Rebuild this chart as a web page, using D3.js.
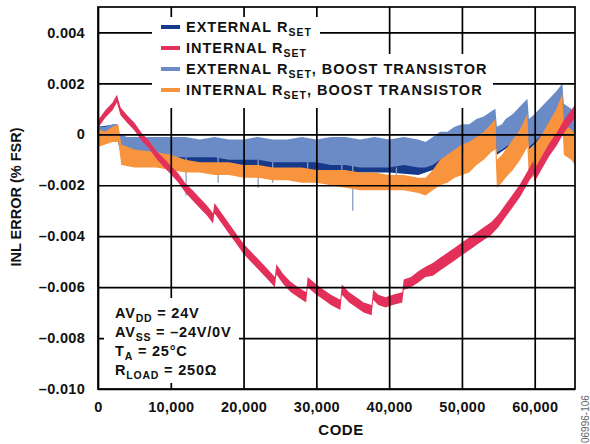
<!DOCTYPE html>
<html>
<head>
<meta charset="utf-8">
<script src="https://cdn.jsdelivr.net/npm/d3@7"></script>
<style>
  html, body { margin: 0; padding: 0; background: #fff; }
  svg text { font-family: "Liberation Sans", Arial, Helvetica, sans-serif; font-weight: bold; fill: #111; }
</style>
</head>
<body>
<svg id="chart" width="590" height="444"></svg>
<script>
// ---- data (INL error, % FSR) : [code, low, high] envelope of each trace ----
const xTicks = [0, 10000, 20000, 30000, 40000, 50000, 60000];
const yTicks = [-0.010, -0.008, -0.006, -0.004, -0.002, 0, 0.002, 0.004];

const seriesNames = ["EXTERNAL R", "INTERNAL R", "EXTERNAL R", "INTERNAL R"];
const seriesSuffix = ["", "", ", BOOST TRANSISTOR", ", BOOST TRANSISTOR"];

const externalRset = [
  [0,-0.0002,0.0003],[2600,-0.0001,0.0004],[3000,-0.0006,-0.0001],[5000,-0.0009,-0.0003],
  [10000,-0.0012,-0.0005],[15000,-0.0013,-0.0006],[20000,-0.0014,-0.0007],[25000,-0.0014,-0.0007],
  [30000,-0.0015,-0.0008],[35000,-0.0015,-0.0008],[40000,-0.0015,-0.0008],[44000,-0.0016,-0.0009],
  [46000,-0.0014,-0.0007],[48000,-0.0011,-0.0004],[50000,-0.0008,-0.0002],[52000,-0.0006,0.0000],
  [54000,-0.0003,0.0003],[54600,-0.0002,0.0004],[54800,-0.0008,-0.0002],[58000,-0.0002,0.0004],
  [59000,0.0001,0.0007],[59200,-0.0006,0.0000],[62000,0.0001,0.0008],[63800,0.0006,0.0013],
  [64000,-0.0001,0.0005],[65535,-0.0006,0.0002]
];

const externalBoost = [
  [0,-0.0002,0.0003],[1000,-0.0002,0.0003],[2000,-0.0001,0.0004],[2600,-0.0001,0.0004],
  [3000,-0.0006,0.0000],[4000,-0.0007,-0.0001],[5000,-0.0008,-0.0001],[6000,-0.0007,-0.0001],
  [8000,-0.0008,-0.0001],[10000,-0.0009,-0.0001],[12000,-0.0009,-0.0001],[14000,-0.0009,-0.0002],
  [16000,-0.0009,-0.0001],[18000,-0.0010,-0.0002],[20000,-0.0010,-0.0002],[22000,-0.0010,-0.0001],
  [24000,-0.0011,-0.0002],[26000,-0.0011,-0.0002],[28000,-0.0011,-0.0001],[30000,-0.0011,-0.0002],
  [32000,-0.0012,-0.0001],[34000,-0.0012,-0.0001],[36000,-0.0013,-0.0002],[38000,-0.0013,-0.0001],
  [40000,-0.0013,-0.0002],[42000,-0.0012,-0.0001],[44000,-0.0013,-0.0002],[45000,-0.0013,-0.0003],
  [46000,-0.0012,-0.0001],[47000,-0.0010,0.0001],[48000,-0.0009,0.0001],[49000,-0.0008,0.0003],
  [50000,-0.0007,0.0004],[51000,-0.0006,0.0004],[52000,-0.0005,0.0006],[53000,-0.0004,0.0007],
  [54000,-0.0002,0.0009],[54600,0.0000,0.0010],[54800,-0.0007,0.0003],[55500,-0.0006,0.0004],
  [56000,-0.0005,0.0006],[57000,-0.0003,0.0008],[58000,0.0000,0.0011],[59000,0.0003,0.0014],
  [59200,-0.0005,0.0006],[60000,-0.0003,0.0008],[61000,0.0000,0.0011],[62000,0.0003,0.0014],
  [63000,0.0006,0.0017],[63800,0.0009,0.0020],[64000,0.0001,0.0012],[65000,-0.0002,0.0010],
  [65535,-0.0006,0.0008]
];

// isolated downward glitches of the external-boost trace: [code, value]
const externalBoostGlitches = [
  [12100,-0.0024],[16500,-0.0019],[22000,-0.0021],[24000,-0.0019],[28800,-0.0018],
  [33500,-0.0019],[35000,-0.0030],[41000,-0.0021]
];

const internalBoost = [
  [0,-0.0005,0.0002],[1000,-0.0004,0.0001],[2000,-0.0003,0.0003],[2800,-0.0003,0.0004],
  [3200,-0.0012,-0.0004],[5000,-0.0013,-0.0006],[8000,-0.0013,-0.0007],[10000,-0.0014,-0.0008],
  [12000,-0.0015,-0.0010],[14000,-0.0015,-0.0011],[16000,-0.0016,-0.0011],[18000,-0.0016,-0.0011],
  [20000,-0.0017,-0.0012],[22000,-0.0017,-0.0012],[24000,-0.0018,-0.0013],[26000,-0.0018,-0.0013],
  [28000,-0.0019,-0.0013],[30000,-0.0019,-0.0014],[32000,-0.0020,-0.0014],[34000,-0.0021,-0.0014],
  [36000,-0.0022,-0.0015],[38000,-0.0022,-0.0015],[40000,-0.0022,-0.0016],[42000,-0.0022,-0.0016],
  [44000,-0.0023,-0.0017],[45000,-0.0024,-0.0017],[46000,-0.0022,-0.0014],[47000,-0.0020,-0.0010],
  [48000,-0.0019,-0.0008],[49000,-0.0017,-0.0006],[50000,-0.0016,-0.0004],[51000,-0.0015,-0.0003],
  [52000,-0.0012,-0.0001],[53000,-0.0010,0.0001],[54000,-0.0007,0.0004],[54600,-0.0006,0.0006],
  [54800,-0.0021,-0.0010],[55500,-0.0019,-0.0008],[56000,-0.0017,-0.0006],[57000,-0.0014,-0.0002],
  [58000,-0.0010,0.0002],[59000,-0.0005,0.0008],[59200,-0.0018,-0.0006],[60000,-0.0016,-0.0004],
  [61000,-0.0012,0.0000],[62000,-0.0007,0.0005],[63000,-0.0002,0.0010],[63800,0.0004,0.0016],
  [64000,-0.0008,0.0004],[65000,-0.0010,0.0002],[65535,-0.0012,0.0000]
];

const internalRset = [
  [0,0.00025,0.00055],[1000,0.00065,0.00095],[2000,0.00095,0.00125],[2600,0.00125,0.00155],
  [3100,0.00075,0.00105],[4000,0.00045,0.00075],[5000,0.00015,0.00045],[6000,-0.00025,0.00005],
  [7000,-0.00055,-0.00025],[8000,-0.00095,-0.00065],[9000,-0.00127,-0.00093],[10000,-0.00157,-0.00123],
  [11000,-0.00188,-0.00152],[12000,-0.00228,-0.00192],[13000,-0.0026,-0.0022],[14000,-0.0029,-0.0025],
  [15000,-0.0032,-0.0028],[15800,-0.0035,-0.0031],[16000,-0.0031,-0.0027],[17000,-0.0035,-0.0031],
  [18000,-0.0039,-0.0035],[19000,-0.0043,-0.0039],[20000,-0.0047,-0.0043],[21000,-0.0050,-0.0046],
  [22000,-0.0053,-0.0049],[23000,-0.0056,-0.0052],[24300,-0.0060,-0.0056],[24500,-0.0055,-0.0051],
  [25500,-0.0059,-0.0055],[26500,-0.0062,-0.0058],[27500,-0.0064,-0.0060],[28600,-0.0066,-0.0062],
  [28800,-0.0060,-0.0056],[30000,-0.0063,-0.0059],[31000,-0.0065,-0.0061],[32000,-0.0067,-0.0063],
  [33300,-0.0069,-0.0065],[33500,-0.0063,-0.0059],[34500,-0.0066,-0.0062],[35500,-0.0068,-0.0064],
  [36500,-0.0070,-0.0066],[37600,-0.0071,-0.0067],[37800,-0.0065,-0.0061],[38500,-0.0067,-0.0063],
  [39500,-0.0068,-0.0064],[40500,-0.0067,-0.0063],[41800,-0.0066,-0.0062],[42000,-0.0061,-0.0057],
  [43000,-0.0060,-0.0056],[44000,-0.00582,-0.00538],[45000,-0.0056,-0.0052],[46000,-0.00555,-0.00505],
  [47000,-0.00535,-0.00485],[48000,-0.00515,-0.00465],[49000,-0.00495,-0.00445],[50000,-0.00475,-0.00425],
  [51000,-0.00455,-0.00405],[52000,-0.00435,-0.00385],[53000,-0.00415,-0.00365],[54000,-0.00395,-0.00345],
  [55000,-0.00365,-0.00315],[56000,-0.00325,-0.00275],[57000,-0.00285,-0.00235],[58000,-0.00245,-0.00195],
  [59000,-0.00195,-0.00145],[59800,-0.00155,-0.00105],[60000,-0.00185,-0.00135],[61000,-0.00135,-0.00085],
  [62000,-0.00085,-0.00035],[63000,-0.00045,0.00005],[64000,0.00005,0.00055],[65000,0.00045,0.00095],
  [65535,0.00065,0.00115]
];

const colors = { extRset: "#17398a", intRset: "#e2305a", extBoost: "#6a8bc6", intBoost: "#f8943d" };

// ---- chart ----
const svg = d3.select("#chart");
const plotL = 98, plotR = 575, plotT = 7, plotB = 389;
const x = d3.scaleLinear().domain([0, 65535]).range([plotL, plotR]);
const y = d3.scaleLinear().domain([-0.010, 0.005]).range([plotB, plotT]);

const area = d3.area().x(d => x(d[0])).y0(d => y(d[1])).y1(d => y(d[2]));
const loAt = (arr, c) => { // envelope low edge of a series at code c (for glitch start)
  const i = d3.bisector(d => d[0]).right(arr, c) - 1;
  return arr[Math.max(0, i)][1];
};

const plot = svg.append("g");
plot.append("path").datum(externalRset).attr("d", area).attr("fill", colors.extRset);
plot.append("path").datum(externalBoost).attr("d", area).attr("fill", colors.extBoost);
plot.selectAll("line.glitch").data(externalBoostGlitches).join("line").attr("class", "glitch")
  .attr("x1", d => x(d[0])).attr("x2", d => x(d[0]))
  .attr("y1", d => y(loAt(externalBoost, d[0]))).attr("y2", d => y(d[1]))
  .attr("stroke", "#8a9cc0").attr("stroke-width", 1.3);
plot.append("path").datum(internalBoost).attr("d", area).attr("fill", colors.intBoost);
plot.append("path").datum(internalRset).attr("d", area).attr("fill", colors.intRset);

// grid + axes
const fmtY = d => d === 0 ? "0" : (d < 0 ? "\u2013" : "") + Math.abs(d).toFixed(3);
const xAxis = svg.append("g").attr("transform", `translate(0,${plotB})`)
  .call(d3.axisBottom(x).tickValues(xTicks).tickFormat(d3.format(",")).tickSize(-(plotB - plotT)).tickPadding(13));
const yAxis = svg.append("g").attr("transform", `translate(${plotL},0)`)
  .call(d3.axisLeft(y).tickValues(yTicks).tickFormat(fmtY).tickSize(-(plotR - plotL)).tickPadding(13));
[xAxis, yAxis].forEach(g => {
  g.select(".domain").remove();
  g.selectAll(".tick line").attr("stroke", "#000").attr("stroke-width", 1.7);
  g.selectAll(".tick text").attr("font-size", 14.5).attr("fill", "#111")
    .style("font-family", '"Liberation Sans", Arial, sans-serif').style("font-weight", "bold")
    .style("letter-spacing", "0.3px");
});
svg.append("rect").attr("x", plotL).attr("y", plotT).attr("width", plotR - plotL).attr("height", plotB - plotT)
  .attr("fill", "none").attr("stroke", "#000").attr("stroke-width", 1.7);

// legend
svg.append("rect").attr("x", 152).attr("y", 17).attr("width", 168).attr("height", 91).attr("fill", "#fff");
svg.append("rect").attr("x", 152).attr("y", 54).attr("width", 341).attr("height", 54).attr("fill", "#fff");
const legendColors = [colors.extRset, colors.intRset, colors.extBoost, colors.intBoost];
const lg = svg.append("g");
seriesNames.forEach((name, i) => {
  const cy = 27 + i * 21;
  lg.append("line").attr("x1", 161).attr("x2", 180).attr("y1", cy).attr("y2", cy)
    .attr("stroke", legendColors[i]).attr("stroke-width", 4);
  const t = lg.append("text").attr("x", 186).attr("y", cy + 5).attr("font-size", 14.5)
    .style("letter-spacing", "1px");
  t.append("tspan").text(name);
  t.append("tspan").attr("font-size", 10.5).attr("dy", 4).text("SET");
  if (seriesSuffix[i]) t.append("tspan").attr("dy", -4).text(seriesSuffix[i]);
});

// conditions box
svg.append("rect").attr("x", 104).attr("y", 298).attr("width", 135).attr("height", 85).attr("fill", "#fff");
const cond = [["AV", "DD", " = 24V"], ["AV", "SS", " = \u201324V/0V"], ["T", "A", " = 25\u00B0C"], ["R", "LOAD", " = 250\u03A9"]];
cond.forEach((c, i) => {
  const t = svg.append("text").attr("x", 115).attr("y", 318 + i * 19).attr("font-size", 14.5)
    .style("letter-spacing", "0.8px");
  t.append("tspan").text(c[0]);
  t.append("tspan").attr("font-size", 10.5).attr("dy", 4).text(c[1]);
  t.append("tspan").attr("dy", -4).text(c[2]);
});

// axis titles
svg.append("text").attr("x", 341).attr("y", 435).attr("text-anchor", "middle").attr("font-size", 15)
  .style("letter-spacing", "0.5px").text("CODE");
svg.append("text").attr("transform", "translate(21,197) rotate(-90)").attr("text-anchor", "middle")
  .attr("font-size", 14.5).text("INL ERROR (% FSR)");
svg.append("text").attr("transform", "translate(589,443) rotate(-90)").attr("font-size", 10)
  .style("font-weight", "normal").style("fill", "#666").text("06996-106");
</script>
</body>
</html>
